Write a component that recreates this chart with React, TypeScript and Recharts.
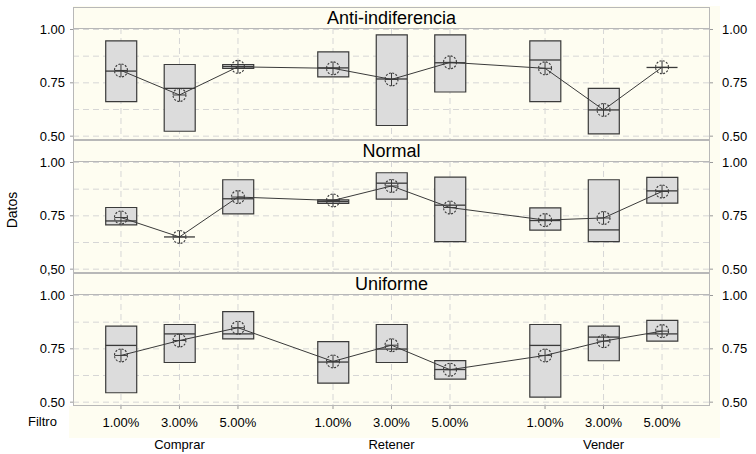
import { ComposedChart, Bar, Line, Scatter, XAxis, YAxis, CartesianGrid } from 'recharts'

const panels = ['Anti-indiferencia', 'Normal', 'Uniforme']
const groups = ['Comprar', 'Retener', 'Vender']
const filters = ['1.00%', '3.00%', '5.00%']
const yTicks = [0.5, 0.75, 1.0]
const leftLabels = [
  ['0.50', '0.75', '1.00'],
  ['0,50', '0.75', '1.00'],
  ['0.50', '0.75', '1.00'],
]
const rightLabels = ['0.50', '0.75', '1.00']

// order: Comprar 1/3/5, Retener 1/3/5, Vender 1/3/5
const antiQ1 = [0.662, 0.523, 0.818, 0.778, 0.55, 0.707, 0.662, 0.511, 0.822]
const antiQ3 = [0.947, 0.836, 0.836, 0.895, 0.975, 0.975, 0.947, 0.724, 0.822]
const antiMed = [0.805, 0.724, 0.827, 0.82, 0.768, 0.844, 0.857, 0.623, 0.822]
const antiMean = [0.808, 0.693, 0.825, 0.818, 0.766, 0.846, 0.818, 0.623, 0.823]

const normQ1 = [0.708, 0.651, 0.759, 0.808, 0.828, 0.629, 0.683, 0.629, 0.81]
const normQ3 = [0.789, 0.651, 0.919, 0.825, 0.952, 0.931, 0.787, 0.919, 0.93]
const normMed = [0.726, 0.651, 0.83, 0.817, 0.903, 0.8, 0.728, 0.684, 0.867]
const normMean = [0.742, 0.651, 0.838, 0.822, 0.89, 0.789, 0.73, 0.74, 0.864]

const unifQ1 = [0.544, 0.686, 0.797, 0.589, 0.686, 0.608, 0.524, 0.694, 0.786]
const unifQ3 = [0.856, 0.864, 0.924, 0.784, 0.864, 0.695, 0.864, 0.856, 0.883]
const unifMed = [0.766, 0.82, 0.82, 0.688, 0.749, 0.653, 0.766, 0.805, 0.82]
const unifMean = [0.719, 0.789, 0.849, 0.691, 0.767, 0.652, 0.719, 0.786, 0.833]

const series = [
  [antiQ1, antiQ3, antiMed, antiMean],
  [normQ1, normQ3, normMed, normMean],
  [unifQ1, unifQ3, unifMed, unifMean],
]

const GROUP_STEP = 3.625
const xTicks = groups.flatMap((_, g) => filters.map((_, i) => g * GROUP_STEP + i))
const xDomain = [-0.82, 10.07]
const yDomain = [0.482, 1.007]
const gridY = [0.5, 0.625, 0.75, 0.875, 1.0]

const CREAM = '#fefdf1'
const FRAME = '#b8b8b8'
const INK = '#3a3a3a'
const PLOT_L = 73
const PLOT_W = 637
const PLOT_H = 112
const PAD = 10
const plotTops = [28, 161, 294]

function buildData(idx: number) {
  const [q1, q3, med, mean] = series[idx]
  return xTicks.map((x, k) => ({ x, box: [q1[k], q3[k]], med: med[k], mean: mean[k] }))
}

const MeanDot = (props: any) => {
  const { cx, cy, index } = props
  if (cx == null || cy == null) return <g key={`m${index}`} />
  return (
    <g key={`m${index}`}>
      <circle cx={cx} cy={cy} r={6.5} fill="none" stroke={INK} strokeWidth={1.1} strokeDasharray="2 1.4" />
      <line x1={cx - 6.5} x2={cx + 6.5} y1={cy} y2={cy} stroke={INK} strokeWidth={1} />
      <line x1={cx} x2={cx} y1={cy - 6.5} y2={cy + 6.5} stroke={INK} strokeWidth={1} />
    </g>
  )
}

const MedLine = (props: any) => {
  const { cx, cy } = props
  return <line x1={cx - 15.5} x2={cx + 15.5} y1={cy} y2={cy} stroke={INK} strokeWidth={1.3} />
}

// filter label under each tick, group name under the middle tick of each group
const FilterTick = (props: any) => {
  const { x, y, payload } = props
  const k = xTicks.indexOf(payload.value)
  return (
    <g>
      <text x={x} y={y} dy="0.71em" textAnchor="middle" fontSize={13} fill="#000">
        {filters[k % 3]}
      </text>
      {k % 3 === 1 && (
        <text x={x} y={y + 22} dy="0.71em" textAnchor="middle" fontSize={13} fill="#000">
          {groups[Math.floor(k / 3)]}
        </text>
      )}
    </g>
  )
}

function Panel({ idx }: { idx: number }) {
  const data = buildData(idx)
  const last = idx === 2
  return (
    <ComposedChart
      width={756}
      height={last ? PAD + PLOT_H + 46 : PAD + PLOT_H + PAD}
      data={data}
      margin={{ top: PAD, right: 0, bottom: last ? 0 : PAD, left: 0 }}
    >
      <CartesianGrid xAxisId="x" yAxisId="left" stroke="#d6d6d6" strokeDasharray="6 4" horizontalValues={gridY} verticalValues={xTicks} />
      <XAxis
        xAxisId="x"
        type="number"
        dataKey="x"
        domain={xDomain}
        ticks={xTicks}
        interval={0}
        hide={!last}
        height={46}
        axisLine={false}
        tickSize={3}
        tickMargin={9}
        tickLine={{ stroke: '#999' }}
        tick={<FilterTick />}
        allowDataOverflow
      />
      <YAxis
        yAxisId="left"
        type="number"
        domain={yDomain}
        ticks={yTicks}
        interval={0}
        width={PLOT_L}
        axisLine={false}
        tickSize={3}
        tickMargin={5}
        tickLine={{ stroke: '#999' }}
        tick={{ fill: '#000', fontSize: 13 }}
        tickFormatter={(v) => leftLabels[idx][yTicks.indexOf(v)]}
        allowDataOverflow
      />
      <YAxis
        yAxisId="right"
        orientation="right"
        type="number"
        domain={yDomain}
        ticks={yTicks}
        interval={0}
        width={756 - PLOT_L - PLOT_W}
        axisLine={false}
        tickSize={3}
        tickMargin={9}
        tickLine={{ stroke: '#999' }}
        tick={{ fill: '#000', fontSize: 13 }}
        tickFormatter={(v) => rightLabels[yTicks.indexOf(v)]}
        allowDataOverflow
      />
      <Bar xAxisId="x" yAxisId="left" dataKey="box" barSize={31} fill="#dcdcdc" stroke={INK} strokeWidth={1.2} isAnimationActive={false} />
      <Scatter xAxisId="x" yAxisId="left" dataKey="med" shape={MedLine} isAnimationActive={false} />
      <Line xAxisId="x" yAxisId="left" dataKey="mean" type="linear" stroke={INK} strokeWidth={1} dot={MeanDot} activeDot={false} isAnimationActive={false} />
    </ComposedChart>
  )
}

export default function App() {
  return (
    <div
      style={{
        position: 'absolute',
        left: 0,
        top: 0,
        width: 756,
        height: 454,
        overflow: 'hidden',
        background: '#fff',
        fontFamily: '"Liberation Sans", Arial, sans-serif',
        color: '#000',
      }}
    >
      <div style={{ position: 'absolute', left: PLOT_L, top: 6, width: 720 - PLOT_L, height: 400, background: CREAM }} />
      <div style={{ position: 'absolute', left: 69, top: 406, width: 720 - 69, height: 32, background: CREAM }} />
      {panels.map((name, idx) => (
        <div key={name}>
          <div
            style={{
              position: 'absolute',
              left: PLOT_L,
              top: plotTops[idx] - 21,
              width: PLOT_W,
              height: 22,
              boxSizing: 'border-box',
              border: `1px solid ${FRAME}`,
              background: CREAM,
              fontSize: 18,
              lineHeight: '20px',
              textAlign: 'center',
            }}
          >
            {name}
          </div>
          <div style={{ position: 'absolute', left: 0, top: plotTops[idx] - PAD }}>
            <Panel idx={idx} />
          </div>
          <div
            style={{
              position: 'absolute',
              left: PLOT_L,
              top: plotTops[idx],
              width: PLOT_W,
              height: PLOT_H,
              boxSizing: 'border-box',
              border: `1px solid ${FRAME}`,
              pointerEvents: 'none',
            }}
          />
        </div>
      ))}
      <div
        style={{
          position: 'absolute',
          left: 12,
          top: 210,
          transform: 'translate(-50%, -50%) rotate(-90deg)',
          fontSize: 14,
          whiteSpace: 'nowrap',
        }}
      >
        Datos
      </div>
      <div style={{ position: 'absolute', left: 28, top: 414, fontSize: 13 }}>Filtro</div>
    </div>
  )
}
